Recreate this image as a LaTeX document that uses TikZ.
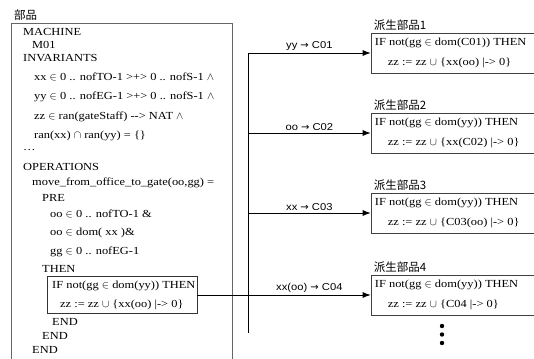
\documentclass[tikz,border=0pt]{standalone}
\usepackage{fontspec}
\setmainfont{Liberation Serif}[FakeStretch=1.15]
\newfontfamily\jpfont{Noto Sans CJK JP}
\newfontfamily\lblfont{Liberation Sans}[FakeStretch=1.12]
\newfontfamily\arrowfont{DejaVu Sans}
\usetikzlibrary{arrows.meta}
\tikzset{
	code/.style = {anchor = west, inner sep = 0pt, font = \fontsize{10.8}{12}\selectfont},
	title/.style = {anchor = west, inner sep = 0pt, font = \jpfont\fontsize{11.5}{12}\selectfont},
	derived/.style = {draw = black!75, line width = 0.6pt, minimum width = 167pt, minimum height = 40pt, inner sep = 0pt},
	link/.style = {line width = 0.9pt},
	arrowlabel/.style = {above = 2pt, inner sep = 0pt, font = \lblfont\fontsize{10}{12}\selectfont}
}
\newcommand{\mapto}{{\arrowfont\fontsize{10}{10}\selectfont →}}
\newcommand{\elem}{$\mathord{\in}$}
\newcommand{\conj}{$\mathord{\wedge}$}
\newcommand{\inter}{$\mathord{\cap}$}
\newcommand{\union}{$\mathord{\cup}$}
\begin{document}
\begin{tikzpicture}[x = 1pt, y = -1pt]
	\useasboundingbox (0,0) rectangle (534,358);
	% the component
	\node [title] (parttitle) at (14,15) {部品};
	\draw [black!60, line width = 0.8pt] (11,362) |- (232,23) -- (232,362);
	\foreach \x/\y/\t [count = \n] in {
		23/32/MACHINE, 32/45/M01, 23/58/INVARIANTS,
		34/77/{xx \elem{} 0 .. nofTO-1 >+> 0 .. nofS-1 \conj},
		34/97/{yy \elem{} 0 .. nofEG-1 >+> 0 .. nofS-1 \conj},
		34/117/{zz \elem{} ran(gateStaff) -{}-> NAT \conj},
		34/136/{ran(xx) \inter{} ran(yy) = \{\}},
		23/150/{\dots}, 23/167/OPERATIONS,
		32/183/{move\_from\_office\_to\_gate(oo,gg) =},
		42/198/PRE,
		50/214/{oo \elem{} 0 .. nofTO-1 \&},
		50/233/{oo \elem{} dom( xx )\&},
		50/252/{gg \elem{} 0 .. nofEG-1},
		42/269/THEN,
		52/286/{IF not(gg \elem{} dom(yy)) THEN},
		60/305/{zz := zz \union{} \{xx(oo) |-> 0\}},
		52/322/END, 42/336/END, 32/350/END}{
	\node [code] (line\n) at (\x,\y) {\t};
	}
	\node [draw, black!80, line width = 0.7pt, minimum width = 150pt, minimum height = 37pt, inner sep = 0pt] (ifbox) at (122,295) {};
	% derived components
	\foreach \i/\yc/\dom/\upd/\lab in {1/53/C01/xx(oo)/yy, 2/133/yy/xx(C02)/oo, 3/213/yy/C03(oo)/xx, 4/295/yy/C04/xx(oo)}{
	\node [derived] (d\i) at (454.5,\yc) {};
	\node [title] (t\i) at ([xshift = 3pt, yshift = 8pt]d\i.north west) {派生部品\i};
	\node [code] (a\i) at ([xshift = 4pt, yshift = -10pt]d\i.north west) {IF not(gg \elem{} dom(\dom)) THEN};
	\node [code] (b\i) at ([xshift = 17pt, yshift = -30pt]d\i.north west) {zz := zz \union{} \{\upd{} |-> 0\}};
	\coordinate (bus\i) at (248,\yc);
	\draw [link, -{Latex[length = 8pt, width = 6pt]}] (bus\i) -- (d\i.west) node [midway, arrowlabel] {\lab{} \mapto{} C0\i};
	}
	\coordinate (busend) at (248,333);
	\draw [link] (bus1) -- (busend);
	\draw [link] (ifbox.east) -- (bus4);
	\foreach \y in {326,334.5,343}{
	\fill (442,\y) circle (2.2pt);
	}
\end{tikzpicture}
\end{document}
